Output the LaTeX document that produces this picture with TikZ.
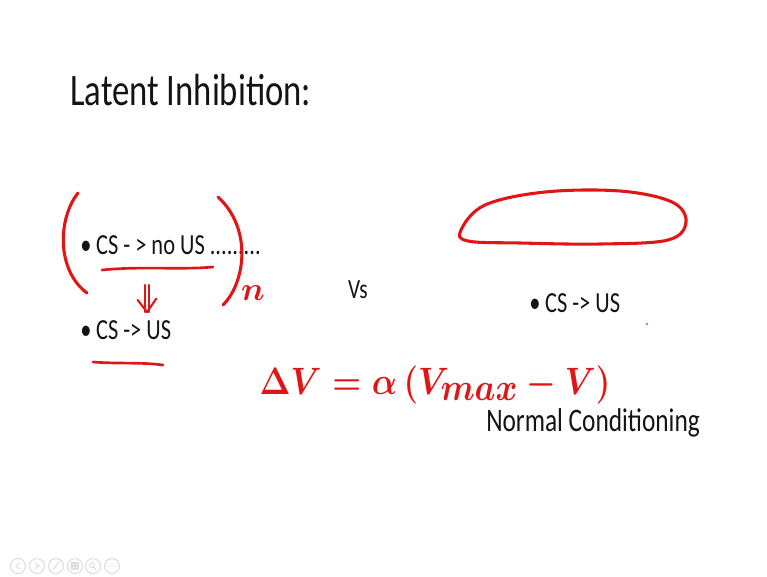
\documentclass[tikz,border=0pt]{standalone}
\usepackage{fontspec}
\setmainfont{Carlito}
\usepackage{tikz}
\definecolor{inkred}{RGB}{224,22,22}
\definecolor{slidetext}{RGB}{20,20,20}
\definecolor{iconfaint}{RGB}{222,222,222}

\begin{document}
\begin{tikzpicture}[x=0.75pt, y=-0.75pt,
  ink/.style={draw=inkred, line width=2.3pt, line cap=round, line join=round},
  slide/.style={text=slidetext, inner sep=0pt, yscale=1.3},
  bullet/.style={slide, anchor=west, font=\fontsize{16.8}{20}\selectfont},
  icon/.style={draw=iconfaint, line width=0.8pt}]
  \useasboundingbox (0,0) rectangle (767,576);
  \fill[white] (0,0) rectangle (767,576);
  % slide text
  \node[slide, anchor=west, font=\fontsize{26}{30}\selectfont] (title) at (70,90) {Latent Inhibition:};
  \node[bullet] (nous) at (80,245) {•\hspace{3.5pt}CS - > no US .........};
  \node[bullet] (us) at (80,330) {•\hspace{3.5pt}CS -> US};
  \node[slide, font=\fontsize{16}{20}\selectfont] (vs) at (358,290) {Vs};
  \node[bullet] (normus) at (529,303) {•\hspace{3.5pt}CS -> US};
  \node[slide, anchor=west, font=\fontsize{19}{23}\selectfont] (normal) at (486,423) {Normal Conditioning};
  % handwriting
  \draw[ink] (78,193) .. controls (58,218) and (56,270) .. (87,293);
  \draw[ink] (218,197) .. controls (252,228) and (246,282) .. (223,305);
  \node[text=inkred, font=\fontsize{27}{30}\selectfont\boldmath, inner sep=0pt] (rep) at (253,293) {$n$};
  \coordinate (ulA) at (102,270);
  \coordinate (ulB) at (213,267);
  \draw[ink, line width=2pt] (ulA) .. controls (140,266) and (180,270) .. (ulB);
  \coordinate (dtop) at (147,285);
  \coordinate (dbot) at (147,312);
  \draw[ink, line width=1.6pt] ([xshift=-1.5pt]dtop) -- ([xshift=-1.5pt]dbot);
  \draw[ink, line width=1.6pt] ([xshift=1.5pt]dtop) -- ([xshift=1.5pt]dbot);
  \draw[ink, line width=1.6pt] ([xshift=-7pt, yshift=9pt]dbot) -- (dbot) -- ([xshift=7pt, yshift=10pt]dbot);
  \coordinate (ulC) at (93,362);
  \coordinate (ulD) at (163,365);
  \draw[ink, line width=2pt] (ulC) .. controls (120,364) and (140,362) .. (ulD);
  \draw[ink] plot[smooth cycle, tension=0.6] coordinates {(461,230) (485,205) (545,192) (620,191) (672,202) (686,222) (668,240) (600,244) (520,243) (468,241)};
  \node[text=inkred, inner sep=0pt, font=\fontsize{36}{40}\selectfont\boldmath, yscale=1.15] (delta) at (435,385) {$\Delta V = \alpha \, (V_{max} - V)$};
  \fill[inkred] (647,324) circle (1);
  % footer icons
  \foreach \cx in {18,37,56,75,93,112}
    \draw[icon] (\cx,566) circle (7.5);
  \draw[icon] (20,563) -- (16,566) -- (20,569);
  \draw[icon] (35,563) -- (39,566) -- (35,569);
  \draw[icon] (53,570) -- (59,562);
  \draw[icon] (72,563) rectangle (78,569) (75,563) -- (75,569) (72,566) -- (78,566);
  \draw[icon] (92,565) circle (2.5) (94,567) -- (96,570);
  \foreach \dx in {-3,0,3}
    \fill[iconfaint] (112+\dx,566) circle (0.8);
\end{tikzpicture}
\end{document}
